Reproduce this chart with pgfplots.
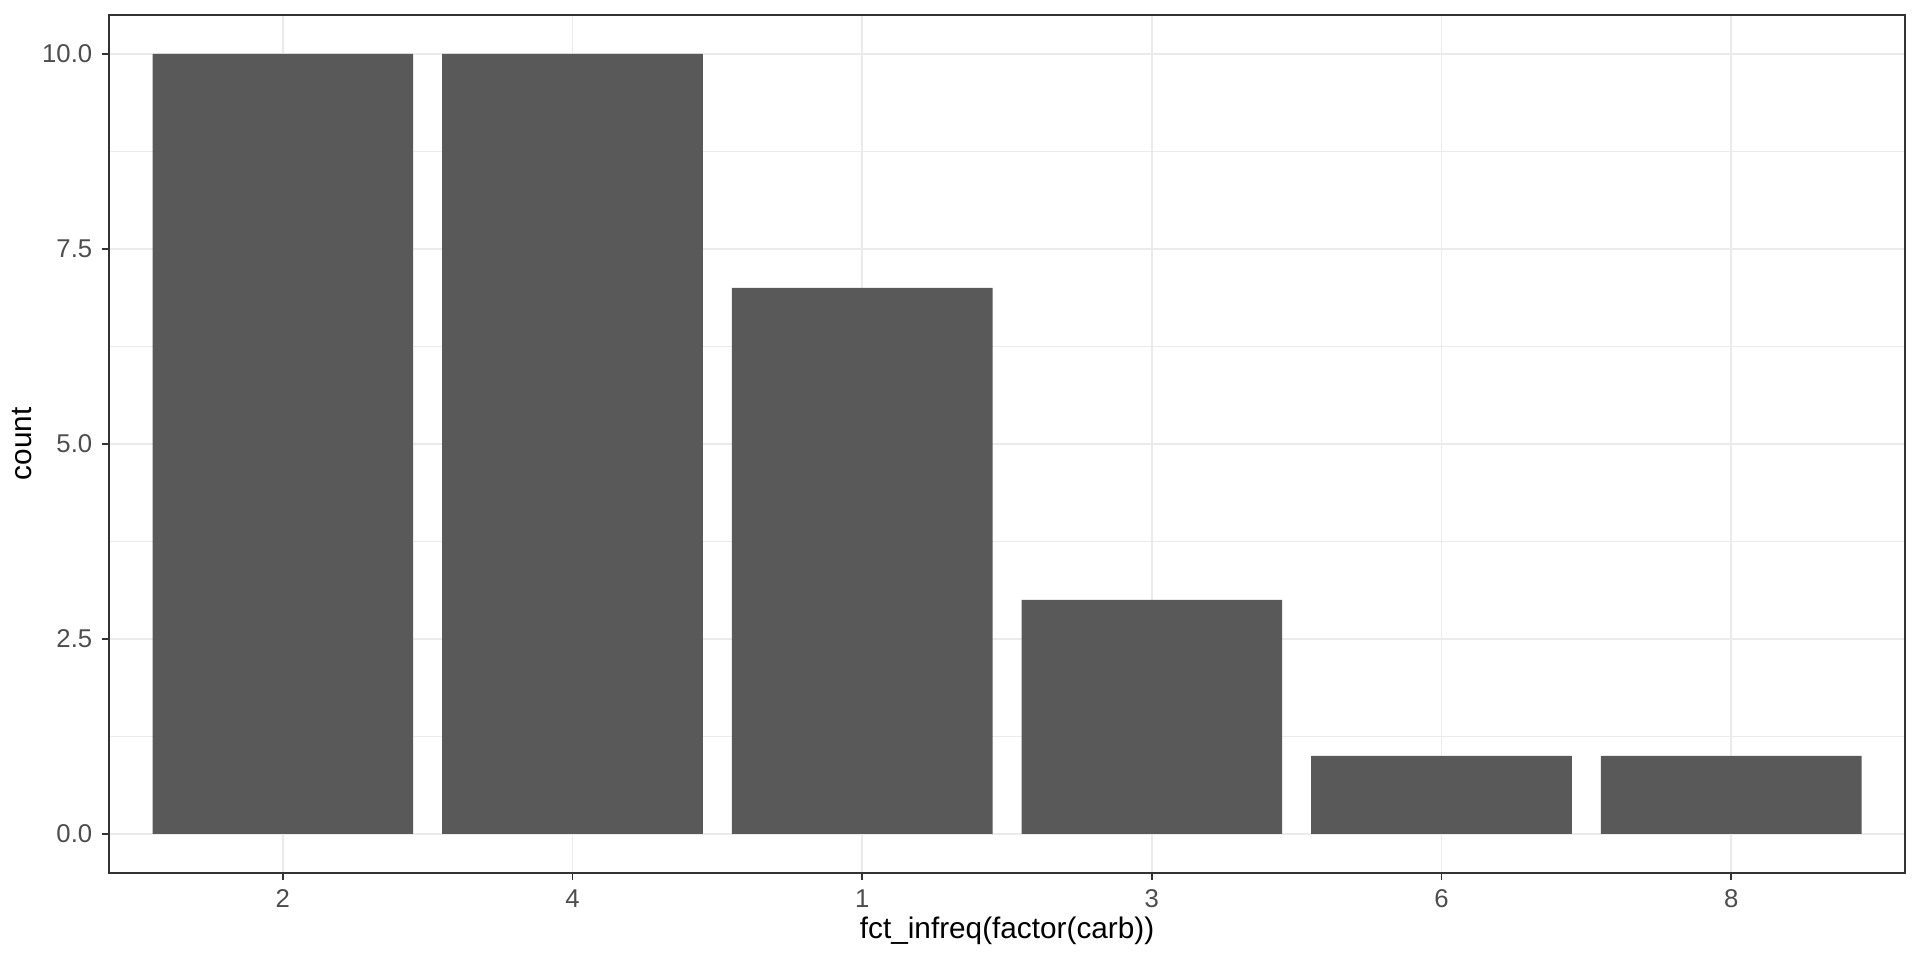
\documentclass[border=0pt]{standalone}
\usepackage{pgfplots}
\pgfplotsset{compat=1.18}
\usepackage{fontspec}
\setmainfont{Liberation Sans}
\definecolor{barfill}{HTML}{595959}
\definecolor{gridc}{HTML}{EBEBEB}
\definecolor{gtwenty}{HTML}{333333}
\definecolor{gthirty}{HTML}{4D4D4D}
\begin{document}
\begin{tikzpicture}
\useasboundingbox (-40.7pt,-32.5pt) rectangle (675.6pt,325.6pt);
\begin{axis}[
  at={(0,0)}, anchor=south west,
  scale only axis, width=670pt, height=320pt,
  xmin=0.4, xmax=6.6, ymin=-0.5, ymax=10.5,
  ybar, bar width=0.9, bar shift=0pt,
  xtick={1,2,3,4,5,6}, xticklabels={2,4,1,3,6,8},
  ytick={0,2.5,5,7.5,10},
  minor ytick={1.25,3.75,6.25,8.75},
  grid=both,
  major grid style={color=gridc, line width=0.55pt},
  minor grid style={color=gridc, line width=0.28pt},
  axis line style={color=gtwenty, line width=0.6pt},
  tick style={color=gtwenty, line width=0.6pt},
  tick align=outside, major tick length=2.75pt, minor tick length=0pt,
  xtick pos=bottom, ytick pos=left,
  tick label style={font=\fontsize{9.6}{11}\selectfont, text=gthirty},
  /pgf/number format/assume math mode=true,
  yticklabel style={/pgf/number format/.cd, fixed, fixed zerofill, precision=1},
  xlabel={fct\_infreq(factor(carb))}, ylabel={count},
  every axis x label/.style={at={(axis description cs:0.5,0)}, anchor=center, yshift=-21.6pt, font=\fontsize{11.1}{13}\selectfont, text=black},
  every axis y label/.style={at={(axis description cs:0,0.5)}, anchor=center, xshift=-32.5pt, rotate=90, font=\fontsize{11.1}{13}\selectfont, text=black},
]
\addplot[fill=barfill, draw=none] coordinates {(1,10) (2,10) (3,7) (4,3) (5,1) (6,1)};
\end{axis}
\end{tikzpicture}
\end{document}
